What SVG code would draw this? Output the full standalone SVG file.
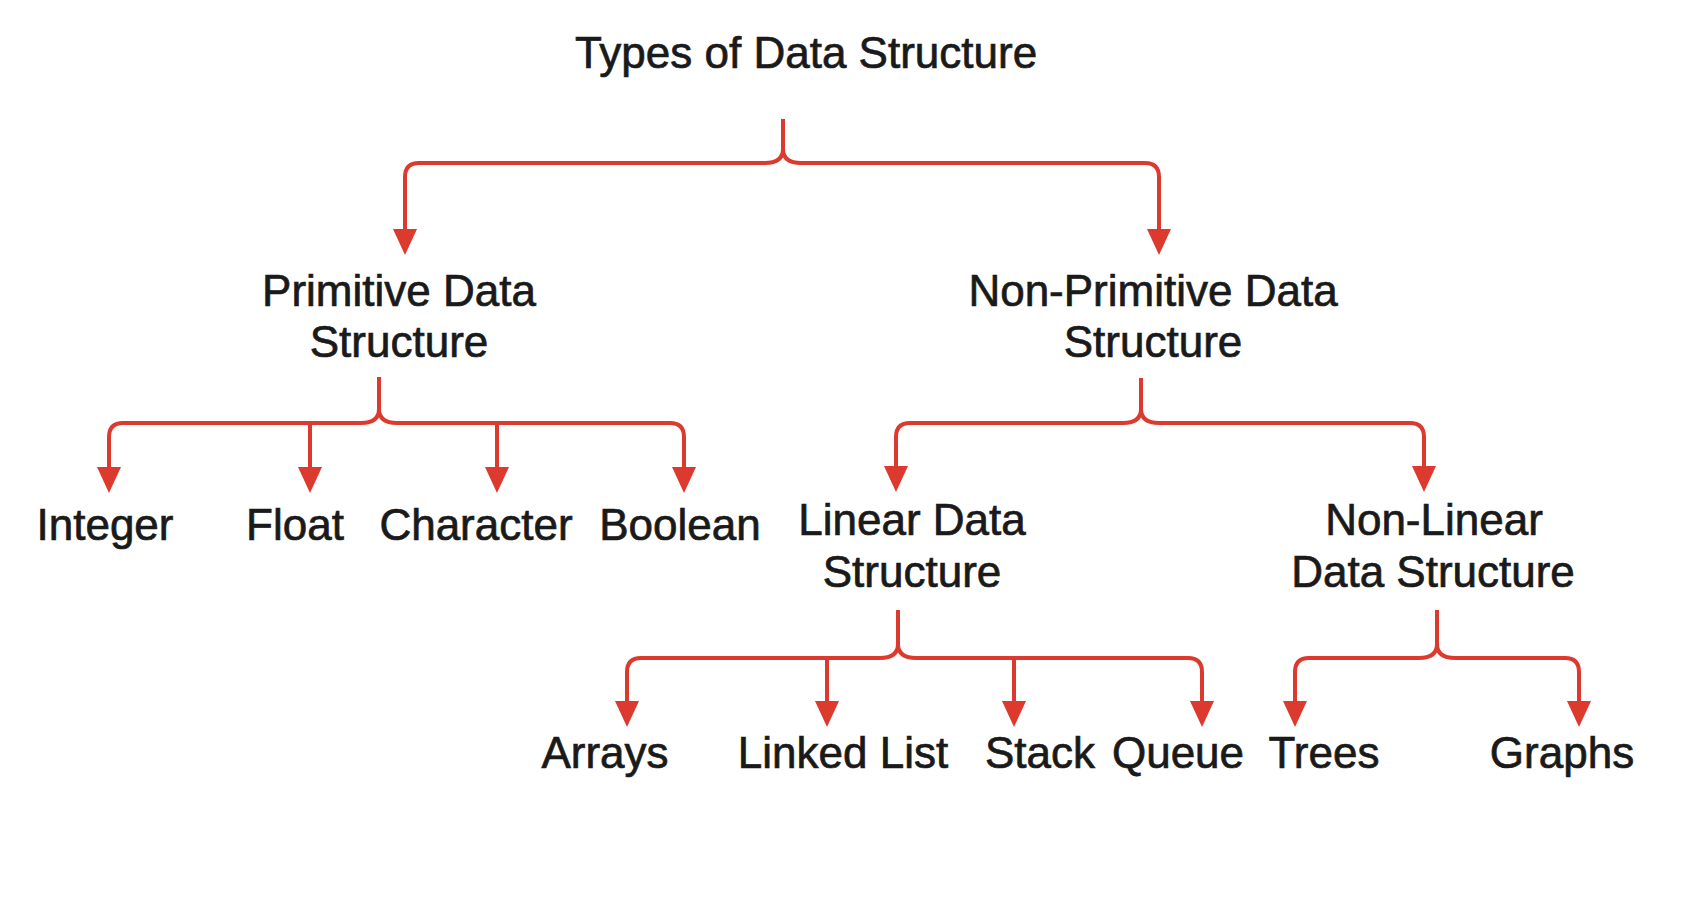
<svg xmlns="http://www.w3.org/2000/svg" width="1694" height="912" viewBox="0 0 1694 912">
<style>
.t{font-family:"Liberation Sans",Arial,Helvetica,sans-serif;font-size:44px;fill:#1a1a1a;stroke:#1a1a1a;stroke-width:0.7;text-anchor:middle}
.c{fill:none;stroke:#dc3a2f;stroke-width:4;stroke-linejoin:round}
</style>
<defs>
<marker id="ah" viewBox="0 0 26 24" markerUnits="userSpaceOnUse" markerWidth="26" markerHeight="24" refX="6" refY="12" orient="auto">
<path d="M0,0 L26,12 L0,24 Z" fill="#dc3a2f"/>
</marker>
</defs>
<rect width="1694" height="912" fill="#ffffff"/>
<g id="connectors">
<path class="c" marker-end="url(#ah)" d="M783,119 V149 Q783,163 765,163 H419 Q405,163 405,177 V235"/>
<path class="c" marker-end="url(#ah)" d="M783,149 Q783,163 801,163 H1145 Q1159,163 1159,177 V235"/>
<path class="c" marker-end="url(#ah)" d="M379,377 V409 Q379,423 361,423 H123 Q109,423 109,437 V473"/>
<path class="c" marker-end="url(#ah)" d="M379,409 Q379,423 397,423 H670 Q684,423 684,437 V473"/>
<path class="c" marker-end="url(#ah)" d="M310,423 V473"/>
<path class="c" marker-end="url(#ah)" d="M497,423 V473"/>
<path class="c" marker-end="url(#ah)" d="M1141,378 V409 Q1141,423 1123,423 H910 Q896,423 896,437 V472"/>
<path class="c" marker-end="url(#ah)" d="M1141,409 Q1141,423 1159,423 H1410 Q1424,423 1424,437 V472"/>
<path class="c" marker-end="url(#ah)" d="M898,610 V644 Q898,658 880,658 H641 Q627,658 627,672 V707"/>
<path class="c" marker-end="url(#ah)" d="M898,644 Q898,658 916,658 H1188 Q1202,658 1202,672 V707"/>
<path class="c" marker-end="url(#ah)" d="M827,658 V707"/>
<path class="c" marker-end="url(#ah)" d="M1014,658 V707"/>
<path class="c" marker-end="url(#ah)" d="M1437,610 V644 Q1437,658 1419,658 H1309 Q1295,658 1295,672 V707"/>
<path class="c" marker-end="url(#ah)" d="M1437,644 Q1437,658 1455,658 H1565 Q1579,658 1579,672 V707"/>
</g>
<g id="root"><text class="t" x="806" y="68">Types of Data Structure</text></g>
<g id="primitive"><text class="t" x="399" y="306">Primitive Data</text><text class="t" x="399" y="357">Structure</text></g>
<g id="nonprimitive"><text class="t" x="1153" y="306">Non-Primitive Data</text><text class="t" x="1153" y="357">Structure</text></g>
<g id="integer"><text class="t" x="105" y="540">Integer</text></g>
<g id="float"><text class="t" x="295" y="540">Float</text></g>
<g id="character"><text class="t" x="476" y="540">Character</text></g>
<g id="boolean"><text class="t" x="680" y="540">Boolean</text></g>
<g id="linear"><text class="t" x="912" y="535">Linear Data</text><text class="t" x="912" y="587">Structure</text></g>
<g id="nonlinear"><text class="t" x="1434" y="535">Non-Linear</text><text class="t" x="1433" y="587">Data Structure</text></g>
<g id="arrays"><text class="t" x="605" y="768">Arrays</text></g>
<g id="linkedlist"><text class="t" x="843" y="768">Linked List</text></g>
<g id="stack"><text class="t" x="1040" y="768">Stack</text></g>
<g id="queue"><text class="t" x="1178" y="768">Queue</text></g>
<g id="trees"><text class="t" x="1324" y="768">Trees</text></g>
<g id="graphs"><text class="t" x="1562" y="768">Graphs</text></g>
</svg>
